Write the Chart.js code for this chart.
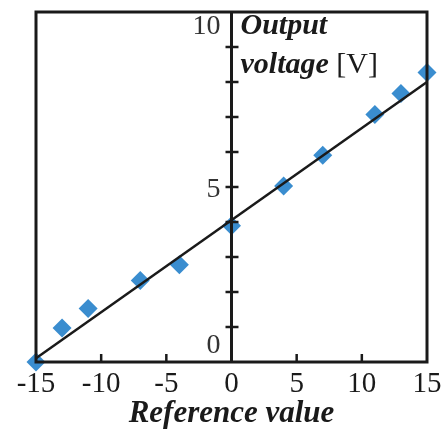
<!DOCTYPE html>
<html>
<head>
<meta charset="utf-8">
<script src="https://cdn.jsdelivr.net/npm/chart.js@4"></script>
<style>
  html, body { margin: 0; padding: 0; background: #fff; }
  #wrap { width: 444px; height: 430px; }
</style>
</head>
<body>
<div id="wrap"><canvas id="outChart"></canvas></div>
<script>
var refX = [-15, -13, -11, -7, -4, 0, 4, 7, 11, 13, 15];
var outputV = [0.0, 0.97, 1.53, 2.33, 2.78, 3.89, 5.03, 5.91, 7.07, 7.67, 8.27];
var fitX = [-15, 15];
var fitY = [0.11, 8.0];
var xTickValues = [-15, -10, -5, 0, 5, 10, 15];
var xInnerTicks = [-10, -5, 5, 10];
var yLabelValues = [0, 5, 10];
var yMinorTicks = [1, 2, 3, 4, 5, 6, 7, 8, 9];

var serif = "'Liberation Serif', 'DejaVu Serif', serif";
var ink = '#1a1a1a';

// frame, y axis through x = 0, tick marks and y labels
var axisPlugin = {
    id: 'axisPlugin',
    afterDatasetsDraw: function (chart) {
        var ctx = chart.ctx;
        var a = chart.chartArea;
        var xs = chart.scales.x;
        var ys = chart.scales.y;
        var x0 = xs.getPixelForValue(0);
        ctx.save();
        ctx.strokeStyle = ink;
        ctx.lineWidth = 3;
        ctx.strokeRect(a.left, a.top, a.right - a.left, a.bottom - a.top);
        ctx.beginPath();
        ctx.moveTo(x0, a.top);
        ctx.lineTo(x0, a.bottom);
        ctx.stroke();
        ctx.lineWidth = 2.5;
        xInnerTicks.forEach(function (v) {
            var px = xs.getPixelForValue(v);
            ctx.beginPath();
            ctx.moveTo(px, a.bottom);
            ctx.lineTo(px, a.bottom - 8);
            ctx.stroke();
        });
        yMinorTicks.forEach(function (v) {
            var py = ys.getPixelForValue(v);
            ctx.beginPath();
            ctx.moveTo(x0 - 6, py);
            ctx.lineTo(x0 + 7, py);
            ctx.stroke();
        });
        ctx.fillStyle = '#333';
        ctx.font = '28px ' + serif;
        ctx.textAlign = 'right';
        ctx.textBaseline = 'middle';
        yLabelValues.forEach(function (v) {
            var py = ys.getPixelForValue(v);
            if (v === 0) py -= 16;
            if (v === 5) py += 3;
            if (v === 10) py += 15;
            ctx.fillText(String(v), x0 - 11, py);
        });
        // axis title for output voltage
        ctx.textAlign = 'left';
        ctx.fillStyle = ink;
        ctx.font = 'italic bold 30px ' + serif;
        var top = ys.getPixelForValue(10);
        ctx.fillText('Output', x0 + 9, top + 14);
        var ty = top + 53;
        ctx.fillText('voltage', x0 + 9, ty);
        var w = ctx.measureText('voltage ').width;
        ctx.font = '30px ' + serif;
        ctx.fillText('[V]', x0 + 9 + w, ty);
        ctx.restore();
    }
};

var el = document.getElementById('outChart').getContext('2d');
var outChart = new Chart(el, {
    type: 'scatter',
    data: {
        datasets: [{
                label: 'Measured',
                data: refX.map(function (x, i) { return { x: x, y: outputV[i] }; }),
                pointStyle: 'rectRot',
                pointRadius: 9.5,
                backgroundColor: '#3a8dcf',
                borderColor: '#3a8dcf',
                borderWidth: 0,
                clip: false,
                order: 2
            },
            {
                label: 'Fit',
                type: 'line',
                data: fitX.map(function (x, i) { return { x: x, y: fitY[i] }; }),
                borderColor: ink,
                borderWidth: 2.5,
                pointRadius: 0,
                lineTension: 0,
                clip: false,
                order: 1
            }
        ]
    },
    options: {
        responsive: true,
        maintainAspectRatio: false,
        animation: false,
        layout: { padding: { left: 36, right: 17, top: 12, bottom: 0 } },
        plugins: {
            legend: { display: false },
            tooltip: { enabled: false }
        },
        scales: {
            x: {
                type: 'linear',
                min: -15,
                max: 15,
                afterBuildTicks: function (axis) {
                    axis.ticks = xTickValues.map(function (v) { return { value: v }; });
                },
                afterFit: function (axis) {
                    axis.height = 68;
                    axis.paddingLeft = 0;
                    axis.paddingRight = 0;
                },
                grid: { display: false, drawTicks: false },
                border: { display: false },
                ticks: {
                    color: ink,
                    font: { family: serif, size: 29, lineHeight: 1.0 },
                    padding: 8,
                    maxRotation: 0,
                    autoSkip: false
                },
                title: {
                    display: true,
                    text: 'Reference value',
                    color: ink,
                    font: { family: serif, size: 31, style: 'italic', weight: 'bold', lineHeight: 1.0 },
                    padding: { top: 1, bottom: 1 }
                }
            },
            y: {
                type: 'linear',
                min: 0,
                max: 10,
                display: false
            }
        }
    },
    plugins: [axisPlugin]
});
</script>
</body>
</html>
